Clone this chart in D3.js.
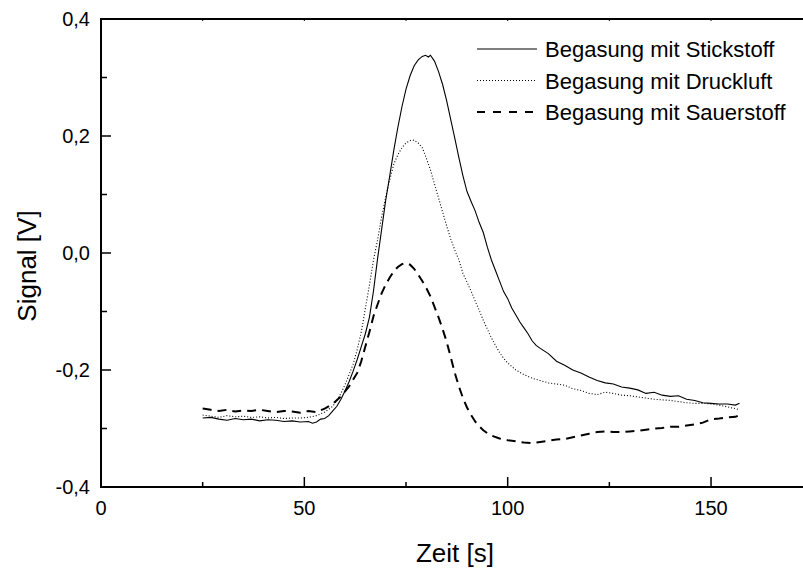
<!DOCTYPE html>
<html><head><meta charset="utf-8">
<script src="https://cdn.jsdelivr.net/npm/d3@7/dist/d3.min.js"></script>
<style>body{margin:0;background:#fff;} text{font-family:"Liberation Sans",Arial,sans-serif;fill:#000;}</style>
</head><body>
<svg id="c" width="803" height="569"></svg>
<script>
const xTicks = [0, 50, 100, 150];
const xMinor = [25, 75, 125, 175];
const yTicks = [-0.4, -0.2, 0.0, 0.2, 0.4];
const yMinor = [-0.3, -0.1, 0.1, 0.3];
const seriesNames = ["Begasung mit Stickstoff", "Begasung mit Druckluft", "Begasung mit Sauerstoff"];

const stickT = [25,27,29,31,33,35,37,39,41,43,45,47,49,51,52,53,54,55,56,57,58,59,60,61,62,63,64,65,66,67,68,69,70,71,72,73,74,75,76,77,78,79,79.8,80.5,81,82,83,84,85,86,87,88,89,90,91,92,93,94,95,96,97,98,99,100,101,102,103,104,105,106,107,108,110,112,114,116,118,120,122,124,126,128,130,132,134,136,138,140,142,144,146,148,150,152,154,156,157];
const stickV = [-0.282,-0.281,-0.284,-0.286,-0.283,-0.285,-0.284,-0.287,-0.285,-0.286,-0.288,-0.287,-0.289,-0.288,-0.291,-0.289,-0.284,-0.283,-0.278,-0.27,-0.262,-0.25,-0.236,-0.22,-0.202,-0.182,-0.16,-0.138,-0.11,-0.065,-0.01,0.04,0.09,0.132,0.176,0.215,0.25,0.28,0.303,0.32,0.33,0.336,0.338,0.335,0.338,0.328,0.31,0.288,0.26,0.228,0.196,0.163,0.132,0.105,0.088,0.072,0.052,0.035,0.01,-0.012,-0.03,-0.048,-0.066,-0.078,-0.094,-0.106,-0.118,-0.128,-0.138,-0.15,-0.158,-0.163,-0.172,-0.185,-0.192,-0.2,-0.205,-0.212,-0.218,-0.222,-0.224,-0.229,-0.231,-0.234,-0.24,-0.238,-0.243,-0.245,-0.244,-0.25,-0.252,-0.256,-0.257,-0.258,-0.258,-0.26,-0.257];

const druckT = [25,27,29,31,33,35,37,39,41,43,45,47,49,51,53,55,57,58,59,60,61,62,63,64,65,66,67,68,69,70,71,72,73,74,75,76,77,78,79,80,81,82,83,84,85,86,87,88,89,90,91,92,93,94,95,96,97,98,99,100,102,104,106,108,110,112,114,116,118,120,122,124,126,128,130,132,134,136,138,140,142,144,146,148,150,152,154,156,157];
const druckV = [-0.277,-0.279,-0.281,-0.278,-0.28,-0.279,-0.281,-0.28,-0.282,-0.281,-0.283,-0.282,-0.282,-0.281,-0.278,-0.272,-0.262,-0.252,-0.24,-0.225,-0.208,-0.19,-0.165,-0.135,-0.095,-0.055,-0.012,0.022,0.062,0.095,0.125,0.152,0.168,0.18,0.188,0.192,0.193,0.188,0.18,0.162,0.142,0.118,0.094,0.07,0.046,0.024,0.005,-0.012,-0.035,-0.05,-0.065,-0.082,-0.098,-0.115,-0.13,-0.145,-0.158,-0.17,-0.18,-0.188,-0.2,-0.208,-0.214,-0.218,-0.222,-0.224,-0.226,-0.232,-0.235,-0.24,-0.242,-0.238,-0.24,-0.243,-0.244,-0.246,-0.248,-0.25,-0.251,-0.252,-0.254,-0.256,-0.257,-0.257,-0.258,-0.26,-0.263,-0.266,-0.268];

const sauerT = [25,27,29,31,33,35,37,39,41,43,45,47,49,51,53,55,57,59,61,63,64,65,66,67,68,69,70,71,72,73,74,75,76,77,78,79,80,81,82,83,84,85,86,87,88,89,90,91,92,93,94,95,96,98,100,102,104,106,108,110,112,114,116,118,120,122,124,126,128,130,132,134,136,138,140,142,144,146,148,150,152,154,156,157];
const sauerV = [-0.266,-0.268,-0.27,-0.268,-0.271,-0.269,-0.27,-0.268,-0.27,-0.272,-0.27,-0.271,-0.273,-0.27,-0.272,-0.266,-0.258,-0.245,-0.228,-0.205,-0.185,-0.16,-0.135,-0.108,-0.088,-0.069,-0.054,-0.042,-0.031,-0.024,-0.019,-0.017,-0.02,-0.027,-0.037,-0.048,-0.06,-0.074,-0.092,-0.11,-0.13,-0.152,-0.178,-0.205,-0.228,-0.248,-0.264,-0.277,-0.288,-0.296,-0.303,-0.308,-0.312,-0.317,-0.32,-0.322,-0.324,-0.325,-0.323,-0.321,-0.319,-0.318,-0.315,-0.312,-0.309,-0.306,-0.305,-0.306,-0.306,-0.305,-0.304,-0.302,-0.3,-0.299,-0.297,-0.297,-0.295,-0.293,-0.29,-0.284,-0.283,-0.281,-0.28,-0.277];

const svg = d3.select("#c");
const x = d3.scaleLinear().domain([0, 175]).range([101, 812.7]);
const y = d3.scaleLinear().domain([-0.4, 0.4]).range([487, 19]);
const fmt = d => d3.format(".1f")(d).replace(".", ",").replace("−", "-");

// axes lines
svg.append("line").attr("x1", 101).attr("x2", 803).attr("y1", 19).attr("y2", 19).attr("stroke", "#000").attr("stroke-width", 2);
svg.append("line").attr("x1", 101).attr("x2", 803).attr("y1", 487).attr("y2", 487).attr("stroke", "#000").attr("stroke-width", 2);
svg.append("line").attr("x1", 101).attr("x2", 101).attr("y1", 18).attr("y2", 488).attr("stroke", "#000").attr("stroke-width", 2);

// bottom ticks
svg.selectAll(".xt").data(xTicks).enter().append("line")
  .attr("x1", d => x(d)).attr("x2", d => x(d)).attr("y1", 487).attr("y2", 477).attr("stroke", "#000").attr("stroke-width", 1.5);
svg.selectAll(".xm").data(xMinor).enter().append("line")
  .attr("x1", d => x(d)).attr("x2", d => x(d)).attr("y1", 487).attr("y2", 482).attr("stroke", "#000").attr("stroke-width", 1.5);
// top ticks
svg.selectAll(".xtt").data(xTicks.concat(xMinor)).enter().append("line")
  .attr("x1", d => x(d)).attr("x2", d => x(d)).attr("y1", 19).attr("y2", 21).attr("stroke", "#000").attr("stroke-width", 1);
// left ticks
svg.selectAll(".yt").data(yTicks).enter().append("line")
  .attr("y1", d => y(d)).attr("y2", d => y(d)).attr("x1", 101).attr("x2", 111).attr("stroke", "#000").attr("stroke-width", 1.5);
svg.selectAll(".ym").data(yMinor).enter().append("line")
  .attr("y1", d => y(d)).attr("y2", d => y(d)).attr("x1", 101).attr("x2", 107).attr("stroke", "#000").attr("stroke-width", 1.5);

// tick labels
svg.selectAll(".xl").data(xTicks).enter().append("text")
  .attr("x", d => x(d)).attr("y", 515).attr("text-anchor", "middle").attr("font-size", 20).text(d => d);
svg.selectAll(".yl").data(yTicks).enter().append("text")
  .attr("x", 90).attr("y", d => y(d) + 7).attr("text-anchor", "end").attr("font-size", 20).text(d => fmt(d));

// axis titles
svg.append("text").attr("x", 455).attr("y", 562).attr("text-anchor", "middle").attr("font-size", 26).text("Zeit [s]");
svg.append("text").attr("transform", "translate(36,266) rotate(-90)").attr("text-anchor", "middle").attr("font-size", 26).text("Signal [V]");

const line = d3.line().x(d => x(d[0])).y(d => y(d[1]));
const series = [
  {pts: d3.zip(stickT, stickV), w: 1.1, dash: null},
  {pts: d3.zip(druckT, druckV), w: 1.1, dash: "1,2"},
  {pts: d3.zip(sauerT, sauerV), w: 2, dash: "9,6"}
];
series.forEach(s => {
  svg.append("path").datum(s.pts).attr("d", line).attr("fill", "none").attr("stroke", "#000")
    .attr("stroke-width", s.w).attr("stroke-dasharray", s.dash);
});

// legend
const lg = svg.append("g");
seriesNames.forEach((n, i) => {
  const yy = 49 + i * 31.5;
  lg.append("line").attr("x1", 477).attr("x2", 537).attr("y1", yy).attr("y2", yy).attr("stroke", "#000")
    .attr("stroke-width", series[i].w).attr("stroke-dasharray", i === 2 ? "8,8" : series[i].dash);
  lg.append("text").attr("x", 545).attr("y", yy + 8).attr("font-size", 22).text(n);
});
</script>
</body></html>
